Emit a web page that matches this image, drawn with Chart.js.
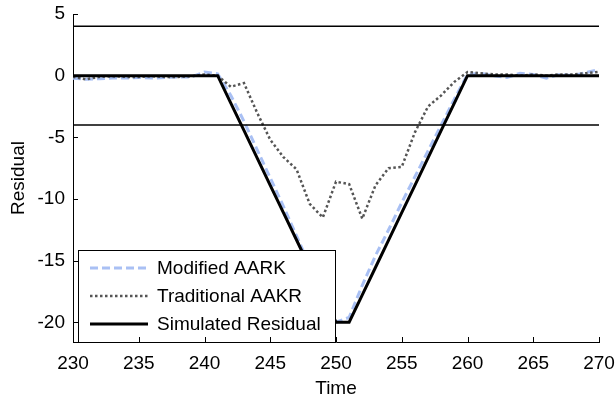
<!DOCTYPE html>
<html>
<head>
<meta charset="utf-8">
<script src="https://cdn.jsdelivr.net/npm/chart.js@4/dist/chart.umd.min.js"></script>
<style>
  body { margin: 0; background: #fff; }
</style>
</head>
<body>
<canvas id="residual" width="616" height="400"></canvas>
<script>
// time samples
const times = [230, 231, 232, 233, 234, 235, 236, 237, 238, 239, 240, 241, 242, 243, 244, 245, 246, 247, 248, 249, 250,
               251, 252, 253, 254, 255, 256, 257, 258, 259, 260, 261, 262, 263, 264, 265, 266, 267, 268, 269, 270];

const modifiedAakr = [-0.2, -0.3, -0.25, -0.2, -0.2, -0.15, -0.2, -0.15, -0.1, -0.1, 0.3, 0.15,
                      -1.6, -3.7, -6.0, -8.3, -10.6, -13.0, -15.4, -17.8, -20,
                      -19.6, -17.0, -14.6, -12.5, -10.3, -8.2, -6.1, -4.0, -1.9,
                      0.1, 0.2, 0.0, -0.15, 0.2, 0.1, -0.2, 0.1, 0.0, 0.25, 0.5];

const traditionalAakr = [-0.1, -0.3, -0.1, -0.05, -0.1, -0.1, -0.05, -0.1, -0.1, -0.05, 0.1, 0.0,
                         -0.9, -0.6, -3.0, -5.2, -6.6, -7.6, -10.4, -11.5, -8.6,
                         -8.8, -11.6, -8.9, -7.5, -7.4, -4.6, -2.5, -1.6, -0.5,
                         0.3, 0.2, 0.1, 0.1, 0.0, 0.1, 0.0, 0.1, 0.1, 0.2, 0.3];

const simulatedResidual = [0, 0, 0, 0, 0, 0, 0, 0, 0, 0, 0, 0,
                           -2.22, -4.44, -6.67, -8.89, -11.11, -13.33, -15.56, -17.78, -20,
                           -20, -17.78, -15.56, -13.33, -11.11, -8.89, -6.67, -4.44, -2.22,
                           0, 0, 0, 0, 0, 0, 0, 0, 0, 0, 0];

// threshold band
const thresholdTimes = [230, 270];
const upperThreshold = [4, 4];
const lowerThreshold = [-4, -4];

const xTicks = [230, 235, 240, 245, 250, 255, 260, 265, 270];
const yTicks = [5, 0, -5, -10, -15, -20];

const FONT = { family: '"Liberation Sans", Arial, sans-serif', size: 19 };

const toPoints = (xs, ys) => xs.map((x, i) => ({ x: x, y: ys[i] }));

// inward tick marks on the left and bottom axes
const inwardTicks = {
    id: 'inwardTicks',
    afterDraw(chart) {
        const ctx = chart.ctx;
        const area = chart.chartArea;
        const xs = chart.scales.x;
        const ys = chart.scales.y;
        ctx.save();
        ctx.strokeStyle = '#000';
        ctx.lineWidth = 1;
        ctx.beginPath();
        xTicks.forEach(v => {
            const px = Math.round(xs.getPixelForValue(v)) + 0.5;
            ctx.moveTo(px, area.bottom);
            ctx.lineTo(px, area.bottom - 5);
        });
        yTicks.forEach(v => {
            const py = Math.round(ys.getPixelForValue(v)) + 0.5;
            ctx.moveTo(area.left, py);
            ctx.lineTo(area.left + 5, py);
        });
        ctx.stroke();
        ctx.restore();
    }
};

// boxed legend sitting in the lower left of the plot
const boxLegend = {
    id: 'boxLegend',
    afterDatasetsDraw(chart) {
        const ctx = chart.ctx;
        const bx = 78, by = 250, bw = 257, bh = 92;
        ctx.save();
        ctx.fillStyle = '#fff';
        ctx.fillRect(bx, by, bw, bh);
        ctx.strokeStyle = '#000';
        ctx.lineWidth = 1;
        ctx.strokeRect(bx + 0.5, by + 0.5, bw, bh);
        const shown = chart.data.datasets.filter(d => d.inLegend);
        shown.forEach((d, i) => {
            const y = 268 + i * 28;
            ctx.strokeStyle = d.borderColor;
            ctx.lineWidth = d.borderWidth;
            ctx.setLineDash(d.borderDash || []);
            ctx.beginPath();
            ctx.moveTo(90, y);
            ctx.lineTo(148, y);
            ctx.stroke();
            ctx.setLineDash([]);
            ctx.fillStyle = '#000';
            ctx.font = FONT.size + 'px ' + FONT.family;
            ctx.textBaseline = 'middle';
            ctx.fillText(d.label, 157, y + 1);
        });
        ctx.restore();
    }
};

new Chart(document.getElementById('residual').getContext('2d'), {
    type: 'line',
    data: {
        datasets: [
            {
                label: 'Modified AARK',
                inLegend: true,
                data: toPoints(times, modifiedAakr),
                borderColor: '#a9c0f4',
                borderWidth: 3,
                borderDash: [8, 4],
                order: 3
            },
            {
                label: 'Traditional AAKR',
                inLegend: true,
                data: toPoints(times, traditionalAakr),
                borderColor: '#555555',
                borderWidth: 2.5,
                borderDash: [2.5, 2.5],
                order: 2
            },
            {
                label: 'Simulated Residual',
                inLegend: true,
                data: toPoints(times, simulatedResidual),
                borderColor: '#000000',
                borderWidth: 3,
                order: 1
            },
            {
                label: 'upper',
                data: toPoints(thresholdTimes, upperThreshold),
                borderColor: '#000000',
                borderWidth: 1.5,
                order: 0
            },
            {
                label: 'lower',
                data: toPoints(thresholdTimes, lowerThreshold),
                borderColor: '#000000',
                borderWidth: 1.5,
                order: 0
            }
        ]
    },
    options: {
        responsive: false,
        animation: false,
        elements: { point: { radius: 0 }, line: { tension: 0 } },
        layout: { padding: { top: 14, right: 17, left: 0, bottom: 0 } },
        plugins: { legend: { display: false }, tooltip: { enabled: false } },
        scales: {
            x: {
                type: 'linear',
                min: 230,
                max: 270,
                afterBuildTicks: s => { s.ticks = xTicks.map(v => ({ value: v })); },
                afterFit: s => { s.height = 58; s.paddingLeft = 0; s.paddingRight = 0; },
                grid: { display: false, drawTicks: false },
                border: { display: true, color: '#000', width: 1 },
                ticks: { color: '#000', font: FONT, padding: 10, maxRotation: 0 },
                title: { display: true, text: 'Time', color: '#000', font: FONT, padding: { top: 0, bottom: 0 } }
            },
            y: {
                type: 'linear',
                min: -21.6,
                max: 5,
                afterBuildTicks: s => { s.ticks = yTicks.map(v => ({ value: v })); },
                afterFit: s => { s.width = 73; s.paddingTop = 0; s.paddingBottom = 0; },
                grid: { display: false, drawTicks: false },
                border: { display: true, color: '#000', width: 1 },
                ticks: { color: '#000', font: FONT, padding: 8 },
                title: { display: true, text: 'Residual', color: '#000', font: FONT, padding: { top: 7, bottom: 0 } }
            }
        }
    },
    plugins: [boxLegend, inwardTicks]
});
</script>
</body>
</html>
